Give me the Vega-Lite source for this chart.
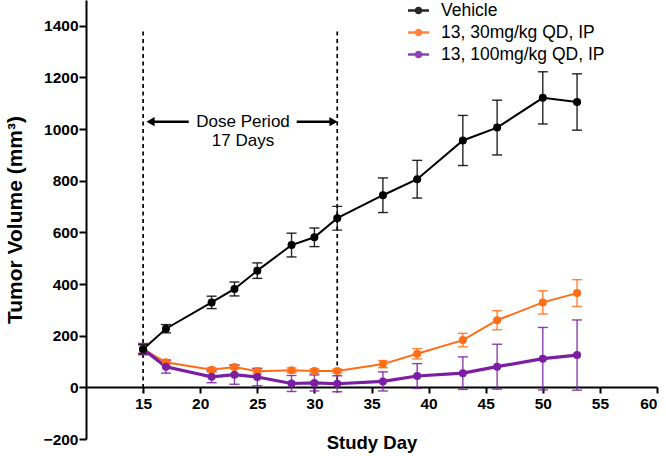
{
  "$schema": "https://vega.github.io/schema/vega-lite/v6.json",
  "width": 571,
  "height": 439,
  "autosize": {"type": "none"},
  "padding": {"left": 86, "top": 0, "right": 9, "bottom": 17},
  "config": {
    "view": {"stroke": null},
    "font": "Liberation Sans",
    "axis": {
      "grid": false,
      "domainColor": "black",
      "tickColor": "black",
      "domainWidth": 2,
      "tickWidth": 2,
      "tickSize": 6,
      "labelFont": "Liberation Sans",
      "labelFontWeight": "bold",
      "labelFontSize": 15.5,
      "labelColor": "black",
      "labelPadding": 3,
      "titleFont": "Liberation Sans",
      "titleFontSize": 18.5,
      "titleFontWeight": "bold",
      "titleColor": "black"
    },
    "legend": {
      "orient": "none", "legendX": 322, "legendY": 0, "title": null,
      "labelFont": "Liberation Sans", "labelFontSize": 17.5, "labelColor": "black", "labelOffset": 12, "labelLimit": 400,
      "symbolType": "M-1,-0.11L1,-0.11L1,0.11L-1,0.11Z M0.36,0A0.36,0.36 0 1,1 -0.36,0A0.36,0.36 0 1,1 0.36,0Z",
      "symbolSize": 441, "symbolStrokeWidth": 0, "rowPadding": 3
    }
  },
  "datasets": {
    "series": [
      {"group": "13, 30mg/kg QD, IP", "day": 15, "value": 148, "sem": 15},
      {"group": "13, 30mg/kg QD, IP", "day": 17, "value": 97, "sem": 10},
      {"group": "13, 30mg/kg QD, IP", "day": 21, "value": 68, "sem": 8},
      {"group": "13, 30mg/kg QD, IP", "day": 23, "value": 79, "sem": 8},
      {"group": "13, 30mg/kg QD, IP", "day": 25, "value": 62, "sem": 10},
      {"group": "13, 30mg/kg QD, IP", "day": 28, "value": 66, "sem": 9},
      {"group": "13, 30mg/kg QD, IP", "day": 30, "value": 63, "sem": 9},
      {"group": "13, 30mg/kg QD, IP", "day": 32, "value": 63, "sem": 8},
      {"group": "13, 30mg/kg QD, IP", "day": 36, "value": 90, "sem": 14},
      {"group": "13, 30mg/kg QD, IP", "day": 39, "value": 130, "sem": 20},
      {"group": "13, 30mg/kg QD, IP", "day": 43, "value": 183, "sem": 26},
      {"group": "13, 30mg/kg QD, IP", "day": 46, "value": 260, "sem": 37},
      {"group": "13, 30mg/kg QD, IP", "day": 50, "value": 329, "sem": 45},
      {"group": "13, 30mg/kg QD, IP", "day": 53, "value": 365, "sem": 52},
      {"group": "13, 100mg/kg QD, IP", "day": 15, "value": 148, "sem": 22},
      {"group": "13, 100mg/kg QD, IP", "day": 17, "value": 80, "sem": 25},
      {"group": "13, 100mg/kg QD, IP", "day": 21, "value": 41, "sem": 23},
      {"group": "13, 100mg/kg QD, IP", "day": 23, "value": 49, "sem": 37},
      {"group": "13, 100mg/kg QD, IP", "day": 25, "value": 40, "sem": 34},
      {"group": "13, 100mg/kg QD, IP", "day": 28, "value": 15, "sem": 31},
      {"group": "13, 100mg/kg QD, IP", "day": 30, "value": 17, "sem": 31},
      {"group": "13, 100mg/kg QD, IP", "day": 32, "value": 14, "sem": 31},
      {"group": "13, 100mg/kg QD, IP", "day": 36, "value": 23, "sem": 37},
      {"group": "13, 100mg/kg QD, IP", "day": 39, "value": 44, "sem": 48},
      {"group": "13, 100mg/kg QD, IP", "day": 43, "value": 55, "sem": 63},
      {"group": "13, 100mg/kg QD, IP", "day": 46, "value": 80, "sem": 87},
      {"group": "13, 100mg/kg QD, IP", "day": 50, "value": 111, "sem": 121},
      {"group": "13, 100mg/kg QD, IP", "day": 53, "value": 125, "sem": 136},
      {"group": "Vehicle", "day": 15, "value": 148, "sem": 18},
      {"group": "Vehicle", "day": 17, "value": 227, "sem": 16},
      {"group": "Vehicle", "day": 21, "value": 329, "sem": 24},
      {"group": "Vehicle", "day": 23, "value": 381, "sem": 27},
      {"group": "Vehicle", "day": 25, "value": 452, "sem": 30},
      {"group": "Vehicle", "day": 28, "value": 551, "sem": 46},
      {"group": "Vehicle", "day": 30, "value": 581, "sem": 36},
      {"group": "Vehicle", "day": 32, "value": 655, "sem": 46},
      {"group": "Vehicle", "day": 36, "value": 744, "sem": 67},
      {"group": "Vehicle", "day": 39, "value": 806, "sem": 73},
      {"group": "Vehicle", "day": 43, "value": 956, "sem": 97},
      {"group": "Vehicle", "day": 46, "value": 1006, "sem": 106},
      {"group": "Vehicle", "day": 50, "value": 1121, "sem": 101},
      {"group": "Vehicle", "day": 53, "value": 1105, "sem": 109}
    ],
    "dose": [{"day": 15}, {"day": 32}],
    "arrows": [
      {"day": 15.65, "day2": 19.0, "value": 1029, "dir": "left"},
      {"day": 28.45, "day2": 31.67, "value": 1029, "dir": "right"}
    ],
    "labels": [
      {"day": 23.75, "value": 1029, "text": "Dose Period"},
      {"day": 23.75, "value": 955, "text": "17 Days"}
    ]
  },
  "layer": [
    {
      "data": {"name": "dose"},
      "mark": {"type": "rule", "color": "black", "strokeWidth": 1.7, "strokeDash": [4, 3.5]},
      "encoding": {
        "x": {"field": "day", "type": "quantitative", "title": "Study Day", "scale": {"domain": [10, 60], "nice": false, "zero": false},
              "axis": {"values": [15, 20, 25, 30, 35, 40, 45, 50, 55, 60], "offset": -52, "title": "Study Day", "titlePadding": 22}},
        "y": {"datum": 1378, "type": "quantitative", "title": "Tumor  Volume (mm³)", "scale": {"domain": [-200, 1500], "nice": false, "zero": false},
              "axis": {"values": [-200, 0, 200, 400, 600, 800, 1000, 1200, 1400], "format": "d", "title": "Tumor  Volume (mm³)", "titlePadding": 18, "titleFontSize": 21, "tickSize": 7, "labelPadding": 1}},
        "y2": {"datum": -20}
      }
    },
    {
      "data": {"name": "arrows"},
      "mark": {"type": "rule", "color": "black", "strokeWidth": 2.5},
      "encoding": {
        "x": {"field": "day", "type": "quantitative", "title": "Study Day"},
        "x2": {"field": "day2"},
        "y": {"field": "value", "type": "quantitative", "title": "Tumor  Volume (mm³)"}
      }
    },
    {
      "data": {"name": "arrows"},
      "transform": [{"filter": "datum.dir == 'left'"}],
      "mark": {"type": "point", "shape": "triangle-left", "filled": true, "color": "black", "size": 90, "opacity": 1},
      "encoding": {
        "x": {"field": "day", "type": "quantitative", "title": "Study Day"},
        "y": {"field": "value", "type": "quantitative", "title": "Tumor  Volume (mm³)"}
      }
    },
    {
      "data": {"name": "arrows"},
      "transform": [{"filter": "datum.dir == 'right'"}],
      "mark": {"type": "point", "shape": "triangle-right", "filled": true, "color": "black", "size": 90, "opacity": 1},
      "encoding": {
        "x": {"field": "day2", "type": "quantitative", "title": "Study Day"},
        "y": {"field": "value", "type": "quantitative", "title": "Tumor  Volume (mm³)"}
      }
    },
    {
      "data": {"name": "labels"},
      "mark": {"type": "text", "font": "Liberation Sans", "fontSize": 17, "color": "black", "align": "center", "baseline": "middle"},
      "encoding": {
        "x": {"field": "day", "type": "quantitative", "title": "Study Day"},
        "y": {"field": "value", "type": "quantitative", "title": "Tumor  Volume (mm³)"},
        "text": {"field": "text"}
      }
    },
    {
      "data": {"name": "series"},
      "mark": {"type": "errorbar", "ticks": {"size": 10}, "thickness": 1.4, "opacity": 0.85},
      "encoding": {
        "x": {"field": "day", "type": "quantitative", "title": "Study Day"},
        "y": {"field": "value", "type": "quantitative", "title": "Tumor  Volume (mm³)"},
        "yError": {"field": "sem"},
        "color": {"field": "group", "type": "nominal"}
      }
    },
    {
      "data": {"name": "series"},
      "transform": [{"filter": "datum.group == '13, 30mg/kg QD, IP'"}],
      "mark": {"type": "line", "strokeWidth": 2},
      "encoding": {
        "x": {"field": "day", "type": "quantitative", "title": "Study Day"},
        "y": {"field": "value", "type": "quantitative", "title": "Tumor  Volume (mm³)"},
        "color": {"field": "group", "type": "nominal"}
      }
    },
    {
      "data": {"name": "series"},
      "transform": [{"filter": "datum.group == '13, 100mg/kg QD, IP'"}],
      "mark": {"type": "line", "strokeWidth": 3.2},
      "encoding": {
        "x": {"field": "day", "type": "quantitative", "title": "Study Day"},
        "y": {"field": "value", "type": "quantitative", "title": "Tumor  Volume (mm³)"},
        "color": {"field": "group", "type": "nominal"}
      }
    },
    {
      "data": {"name": "series"},
      "transform": [{"filter": "datum.group == 'Vehicle'"}],
      "mark": {"type": "line", "strokeWidth": 2},
      "encoding": {
        "x": {"field": "day", "type": "quantitative", "title": "Study Day"},
        "y": {"field": "value", "type": "quantitative", "title": "Tumor  Volume (mm³)"},
        "color": {"field": "group", "type": "nominal"}
      }
    },
    {
      "data": {"name": "series"},
      "mark": {"type": "point", "filled": true, "size": 64, "opacity": 1},
      "encoding": {
        "x": {"field": "day", "type": "quantitative", "title": "Study Day"},
        "y": {"field": "value", "type": "quantitative", "title": "Tumor  Volume (mm³)"},
        "color": {"field": "group", "type": "nominal", "title": null,
          "scale": {"domain": ["Vehicle", "13, 30mg/kg QD, IP", "13, 100mg/kg QD, IP"], "range": ["#000000", "#ff6d17", "#7b1fa2"]}}
      }
    }
  ]
}
